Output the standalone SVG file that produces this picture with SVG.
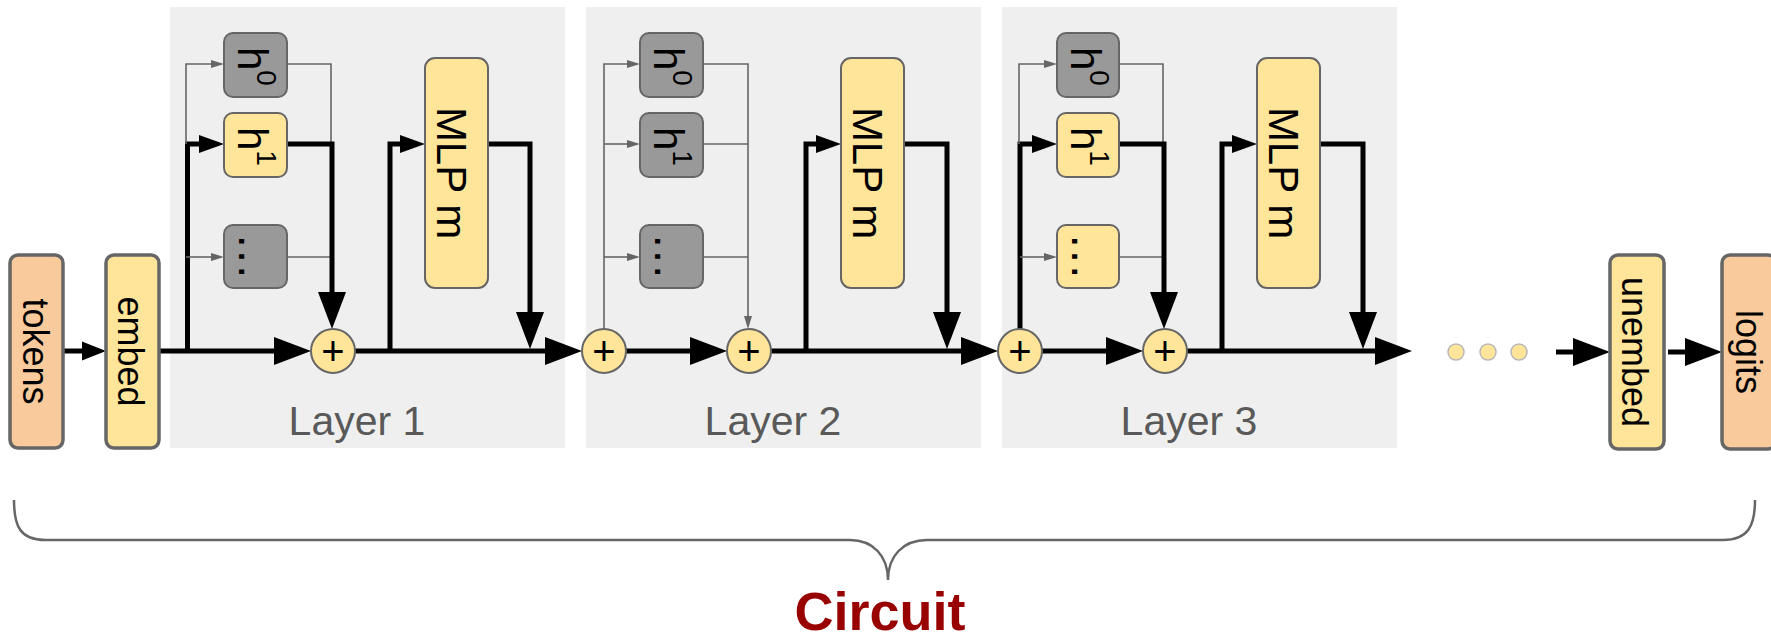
<svg xmlns="http://www.w3.org/2000/svg" width="1771" height="639" viewBox="0 0 1771 639">
<style>
.peach{fill:#f9cb9c;stroke:#666;stroke-width:3.5}
.yel-o{fill:#ffe599;stroke:#666;stroke-width:3.5}
.hg{fill:#999;stroke:#666;stroke-width:2}
.hy{fill:#ffe599;stroke:#666;stroke-width:2}
.layer{fill:#efefef}
.thick{stroke:#000;stroke-width:5;fill:none;stroke-linejoin:miter}
.thin{stroke:#666;stroke-width:1.6;fill:none}
.plus{fill:#ffe599;stroke:#666;stroke-width:2}
.dot{fill:#ffe599;stroke:#b7b7b7;stroke-width:1.5}
text{font-family:"Liberation Sans",Arial,sans-serif;fill:#000}
.t36{font-size:36px}
.tm{font-size:42px}
.th{font-size:42px}
.ts{font-size:28px}
.te{font-size:48px}
.tp{font-size:40px}
.tl{font-size:41px;fill:#595959}
</style>
<defs>
<marker id="big" markerUnits="userSpaceOnUse" markerWidth="37" markerHeight="28" refX="0" refY="14" orient="auto" overflow="visible"><path d="M0,0 L37,14 L0,28 z" fill="#000"/></marker>
<marker id="med" markerUnits="userSpaceOnUse" markerWidth="25" markerHeight="18" refX="0" refY="9" orient="auto" overflow="visible"><path d="M0,0 L25,9 L0,18 z" fill="#000"/></marker>
<marker id="sm" markerUnits="userSpaceOnUse" markerWidth="13" markerHeight="8" refX="0" refY="4" orient="auto" overflow="visible"><path d="M0,0 L13,4 L0,8 z" fill="#666"/></marker>
<marker id="tok" markerUnits="userSpaceOnUse" markerWidth="24" markerHeight="19" refX="0" refY="9.5" orient="auto" overflow="visible"><path d="M0,0 L24,9.5 L0,19 z" fill="#000"/></marker>
</defs>

<g id="layer1">
<rect class="layer" x="170" y="7" width="395" height="441"/>
<text class="tl" x="357" y="435" text-anchor="middle">Layer 1</text>
</g>
<g id="layer2">
<rect class="layer" x="586" y="7" width="395" height="441"/>
<text class="tl" x="773" y="435" text-anchor="middle">Layer 2</text>
</g>
<g id="layer3">
<rect class="layer" x="1002" y="7" width="395" height="441"/>
<text class="tl" x="1189" y="435" text-anchor="middle">Layer 3</text>
</g>

<g id="connectors">
<path class="thick" d="M63,351 H82" marker-end="url(#tok)"/>
<path class="thick" d="M159,351 H274" marker-end="url(#big)"/>
<path class="thick" d="M187.5,353 V144 H199" marker-end="url(#med)"/>
<path class="thin" d="M186,144 V64 H211" marker-end="url(#sm)"/>
<path class="thin" d="M186,257 H211" marker-end="url(#sm)"/>
<path class="thin" d="M287,64 H331 V144"/>
<path class="thin" d="M287,257 H331"/>
<path class="thick" d="M287,144 H332 V292" marker-end="url(#big)"/>
<path class="thick" d="M355,351 H545" marker-end="url(#big)"/>
<path class="thick" d="M390,353 V144 H400" marker-end="url(#med)"/>
<path class="thick" d="M488,144 H530 V312" marker-end="url(#big)"/>
<path class="thin" d="M604,329 V64 H627" marker-end="url(#sm)"/>
<path class="thin" d="M604,144 H627" marker-end="url(#sm)"/>
<path class="thin" d="M604,257 H627" marker-end="url(#sm)"/>
<path class="thick" d="M626,351 H690" marker-end="url(#big)"/>
<path class="thin" d="M703,64 H748 V316" marker-end="url(#sm)"/>
<path class="thin" d="M703,144 H748"/>
<path class="thin" d="M703,257 H748"/>
<path class="thick" d="M771,351 H961" marker-end="url(#big)"/>
<path class="thick" d="M806,353 V144 H816" marker-end="url(#med)"/>
<path class="thick" d="M904,144 H947 V312" marker-end="url(#big)"/>
<path class="thick" d="M1020,330 V144 H1032" marker-end="url(#med)"/>
<path class="thin" d="M1019,144 V64 H1044" marker-end="url(#sm)"/>
<path class="thin" d="M1020,257 H1044" marker-end="url(#sm)"/>
<path class="thick" d="M1042,351 H1106" marker-end="url(#big)"/>
<path class="thin" d="M1119,64 H1163 V144"/>
<path class="thin" d="M1119,257 H1163"/>
<path class="thick" d="M1119,144 H1164 V292" marker-end="url(#big)"/>
<path class="thick" d="M1187,351 H1375" marker-end="url(#big)"/>
<path class="thick" d="M1222,353 V144 H1232" marker-end="url(#med)"/>
<path class="thick" d="M1320,144 H1363 V312" marker-end="url(#big)"/>
<path class="thick" d="M1556,352 H1573" marker-end="url(#big)"/>
<path class="thick" d="M1668,352 H1685" marker-end="url(#big)"/>
</g>

<g id="tokens">
<rect class="peach" x="10" y="255" width="53" height="193" rx="8"/>
<text class="t36" transform="translate(23,351.5) rotate(90)" text-anchor="middle">tokens</text>
</g>
<g id="embed">
<rect class="yel-o" x="106" y="255" width="53" height="193" rx="8"/>
<text class="t36" transform="translate(118,351.5) rotate(90)" text-anchor="middle">embed</text>
</g>

<g id="l1-h0">
<rect class="hg" x="224" y="33" width="63" height="64" rx="9"/>
<text class="th" transform="translate(238,47) rotate(90)">h<tspan class="ts" dy="-19">0</tspan></text>
</g>
<g id="l1-h1">
<rect class="hy" x="224" y="113" width="63" height="64" rx="9"/>
<text class="th" transform="translate(238,127) rotate(90)">h<tspan class="ts" dy="-19">1</tspan></text>
</g>
<g id="l1-hdots">
<rect class="hg" x="224" y="225" width="63" height="63" rx="9"/>
<text class="te" transform="translate(239,256.5) rotate(90)" text-anchor="middle">…</text>
</g>
<g id="l1-add">
<circle class="plus" cx="333" cy="351" r="22"/>
<text class="tp" x="333" y="365" text-anchor="middle">+</text>
</g>
<g id="l1-mlp">
<rect class="hy" x="425" y="58" width="63" height="230" rx="10"/>
<text class="tm" transform="translate(437,173) rotate(90)" text-anchor="middle">MLP m</text>
</g>

<g id="l2-addin">
<circle class="plus" cx="604" cy="351" r="22"/>
<text class="tp" x="604" y="365" text-anchor="middle">+</text>
</g>
<g id="l2-h0">
<rect class="hg" x="640" y="33" width="63" height="64" rx="9"/>
<text class="th" transform="translate(654,47) rotate(90)">h<tspan class="ts" dy="-19">0</tspan></text>
</g>
<g id="l2-h1">
<rect class="hg" x="640" y="113" width="63" height="64" rx="9"/>
<text class="th" transform="translate(654,127) rotate(90)">h<tspan class="ts" dy="-19">1</tspan></text>
</g>
<g id="l2-hdots">
<rect class="hg" x="640" y="225" width="63" height="63" rx="9"/>
<text class="te" transform="translate(655,256.5) rotate(90)" text-anchor="middle">…</text>
</g>
<g id="l2-add">
<circle class="plus" cx="749" cy="351" r="22"/>
<text class="tp" x="749" y="365" text-anchor="middle">+</text>
</g>
<g id="l2-mlp">
<rect class="hy" x="841" y="58" width="63" height="230" rx="10"/>
<text class="tm" transform="translate(853,173) rotate(90)" text-anchor="middle">MLP m</text>
</g>

<g id="l3-addin">
<circle class="plus" cx="1020" cy="351" r="22"/>
<text class="tp" x="1020" y="365" text-anchor="middle">+</text>
</g>
<g id="l3-h0">
<rect class="hg" x="1057" y="33" width="62" height="64" rx="9"/>
<text class="th" transform="translate(1071,47) rotate(90)">h<tspan class="ts" dy="-19">0</tspan></text>
</g>
<g id="l3-h1">
<rect class="hy" x="1057" y="113" width="62" height="64" rx="9"/>
<text class="th" transform="translate(1071,127) rotate(90)">h<tspan class="ts" dy="-19">1</tspan></text>
</g>
<g id="l3-hdots">
<rect class="hy" x="1057" y="225" width="62" height="63" rx="9"/>
<text class="te" transform="translate(1071.5,256.5) rotate(90)" text-anchor="middle">…</text>
</g>
<g id="l3-add">
<circle class="plus" cx="1165" cy="351" r="22"/>
<text class="tp" x="1165" y="365" text-anchor="middle">+</text>
</g>
<g id="l3-mlp">
<rect class="hy" x="1257" y="58" width="63" height="230" rx="10"/>
<text class="tm" transform="translate(1269,173) rotate(90)" text-anchor="middle">MLP m</text>
</g>

<g id="more">
<circle class="dot" cx="1456" cy="352" r="8"/>
<circle class="dot" cx="1488" cy="352" r="8"/>
<circle class="dot" cx="1519" cy="352" r="8"/>
</g>
<g id="unembed">
<rect class="yel-o" x="1610" y="255" width="54" height="194" rx="8"/>
<text class="t36" transform="translate(1622,352) rotate(90)" text-anchor="middle">unembed</text>
</g>
<g id="logits">
<rect class="peach" x="1722" y="255" width="54" height="194" rx="8"/>
<text class="t36" transform="translate(1736,352) rotate(90)" text-anchor="middle">logits</text>
</g>

<g id="circuit">
<path d="M14,500 C14,526 20,540 45,540 H850 C873,540 888,556 888,580 C888,556 903,540 927,540 H1723 C1748,540 1755,526 1755,500" fill="none" stroke="#666" stroke-width="2.5"/>
<text x="880" y="630" text-anchor="middle" font-size="54" font-weight="bold" style="fill:#990000">Circuit</text>
</g>
</svg>
